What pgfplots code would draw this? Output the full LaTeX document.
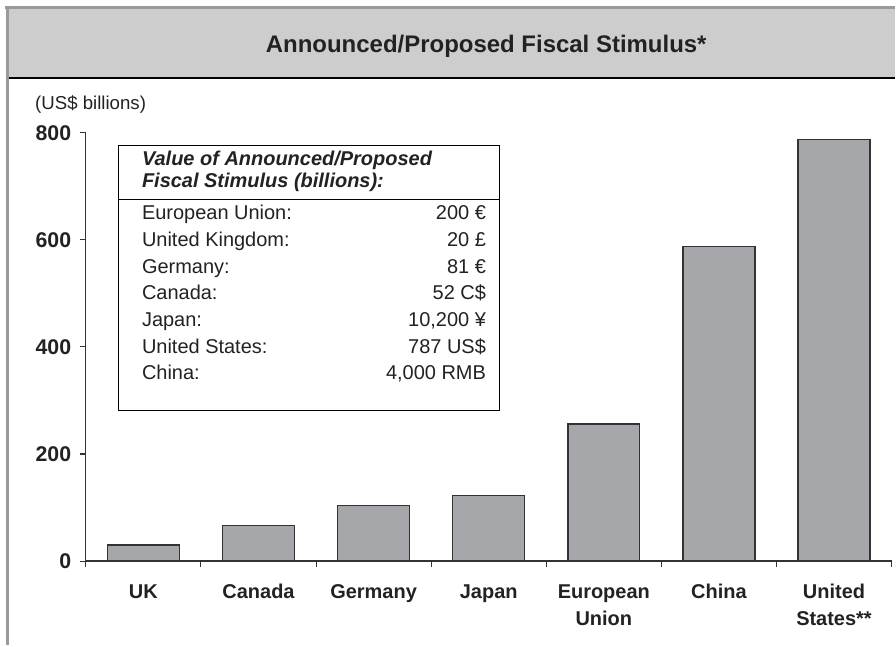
\documentclass[border=0pt]{standalone}
\usepackage{pgfplots}
\pgfplotsset{compat=1.18}
\usepackage{fontspec}
\setmainfont{Liberation Sans}
\definecolor{barfill}{HTML}{A5A7AA}
\definecolor{baredge}{HTML}{333333}
\definecolor{headfill}{HTML}{CDCDCD}
\definecolor{bordergray}{HTML}{9A9A9A}
\definecolor{txt}{HTML}{222222}
\begin{document}
\begin{tikzpicture}
\begin{scope}[x=0.75pt,y=0.75pt]
\path (0,0) rectangle (896,646);
\fill[headfill] (9,568) rectangle (896,637);
\draw[bordergray, line width=2.2pt] (5,638.5) -- (896,638.5);
\draw[bordergray, line width=2.2pt] (7.5,640) -- (7.5,0);
\draw[black, line width=2pt] (9,568) -- (896,568);
\node[anchor=base, font=\fontsize{18}{21}\selectfont\bfseries, text=txt, inner sep=0pt] at (487,593) {Announced/Proposed Fiscal Stimulus*};
\node[anchor=base west, font=\fontsize{14}{16}\selectfont, text=txt, inner sep=0pt] at (35,536) {(US\$ billions)};
\end{scope}
\begin{axis}[
  at={(64.5pt,63pt)}, anchor=south west,
  scale only axis, width=605.25pt, height=321.75pt,
  xmin=-0.5, xmax=6.5, ymin=0, ymax=800,
  axis x line*=bottom, axis y line*=left,
  axis line style={black!80, line width=0.9pt},
  xtick={-0.5,0.5,...,6.5},
  x tick label as interval,
  xticklabels={\strut UK, \strut Canada, \strut Germany, \strut Japan, {\strut European\\Union}, \strut China, {\strut United\\States**}},
  ytick={0,200,400,600,800},
  tick align=outside,
  major tick length=4.5pt,
  tick style={black!80, line width=0.8pt},
  xticklabel style={align=center, anchor=north, font=\fontsize{15}{20}\selectfont\bfseries, text=txt, yshift=-6pt},
  yticklabel style={font=\fontsize{16}{18}\selectfont\bfseries, text=txt, xshift=-3pt},
  /pgf/number format/assume math mode=true,
  /pgf/number format/1000 sep={},
  ybar, bar width=54pt,
  clip=false,
]
\addplot[fill=barfill, draw=baredge, line width=1pt] coordinates {
(0,30) (1,67) (2,104) (3,123) (4,256) (5,587) (6,787)
};
\end{axis}
\begin{scope}[x=0.75pt,y=0.75pt]
\draw[black, line width=1pt, fill=white] (119,500) rectangle (500,235);
\draw[black, line width=1pt] (119,446) -- (500,446);
\begin{scope}[every node/.style={font=\fontsize{15}{18}\selectfont, text=txt, inner sep=0pt}]
\node[anchor=base west, font=\fontsize{15}{18}\selectfont\bfseries\itshape] at (142,480) {Value of Announced/Proposed};
\node[anchor=base west, font=\fontsize{15}{18}\selectfont\bfseries\itshape] at (142,458) {Fiscal Stimulus (billions):};
\node[anchor=base west] at (142,426) {European Union:};
\node[anchor=base east] at (487,426) {200 €};
\node[anchor=base west] at (142,399) {United Kingdom:};
\node[anchor=base east] at (487,399) {20 £};
\node[anchor=base west] at (142,372) {Germany:};
\node[anchor=base east] at (487,372) {81 €};
\node[anchor=base west] at (142,346) {Canada:};
\node[anchor=base east] at (487,346) {52 C\$};
\node[anchor=base west] at (142,319) {Japan:};
\node[anchor=base east] at (487,319) {10,200 ¥};
\node[anchor=base west] at (142,292) {United States:};
\node[anchor=base east] at (487,292) {787 US\$};
\node[anchor=base west] at (142,266) {China:};
\node[anchor=base east] at (487,266) {4,000 RMB};
\end{scope}
\end{scope}
\end{tikzpicture}
\end{document}
